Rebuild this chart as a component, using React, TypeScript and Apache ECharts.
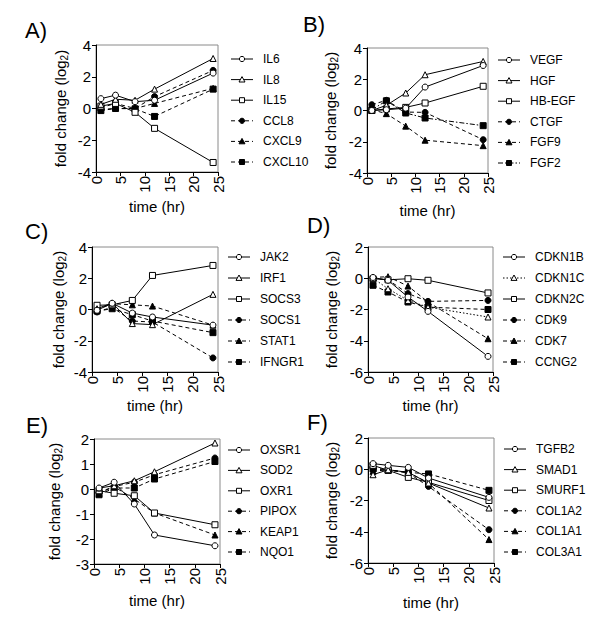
import React, { useEffect, useRef } from 'react';
import * as echarts from 'echarts';

// ---------- data ----------
const times = [1, 4, 8, 12, 24];

// Panel A
const genesA = ['IL6', 'IL8', 'IL15', 'CCL8', 'CXCL9', 'CXCL10'];
const IL6 = [0.62, 0.84, 0.43, 0.52, 2.23];
const IL8 = [0.26, 0.58, 0.52, 1.22, 3.15];
const IL15 = [0.15, 0.32, -0.24, -1.25, -3.4];
const CCL8 = [-0.06, 0.0, 0.0, 0.75, 2.4];
const CXCL9 = [0.05, 0.32, 0.0, 0.32, 1.27];
const CXCL10 = [-0.13, 0.0, -0.02, -0.5, 1.22];

// Panel B
const genesB = ['VEGF', 'HGF', 'HB-EGF', 'CTGF', 'FGF9', 'FGF2'];
const VEGF = [0, 0.05, 0.15, 1.5, 2.88];
const HGF = [0, 0.33, 1.12, 2.29, 3.14];
const HBEGF = [0, 0.1, 0.2, 0.48, 1.55];
const CTGF = [0.37, 0.65, -0.1, -0.12, -1.87];
const FGF9 = [0.05, -0.2, -1.0, -1.9, -2.25];
const FGF2 = [0.05, 0.62, -0.16, -0.48, -0.97];

// Panel C
const genesC = ['JAK2', 'IRF1', 'SOCS3', 'SOCS1', 'STAT1', 'IFNGR1'];
const JAK2 = [-0.05, 0.4, -0.23, -0.48, -1.0];
const IRF1 = [0.05, 0.42, -0.9, -0.97, 0.97];
const SOCS3 = [0.27, 0.3, 0.58, 2.18, 2.82];
const SOCS1 = [-0.16, 0.15, -0.74, -0.8, -3.1];
const STAT1 = [0, 0.37, 0.3, 0.22, -1.0];
const IFNGR1 = [-0.1, 0.05, -0.33, -0.74, -1.48];

// Panel D
const genesD = ['CDKN1B', 'CDKN1C', 'CDKN2C', 'CDK9', 'CDK7', 'CCNG2'];
const CDKN1B = [0.05, -0.13, -1.2, -2.12, -5.0];
const CDKN1C = [0, -0.67, -1.42, -1.85, -2.48];
const CDKN2C = [-0.03, -0.1, -0.03, -0.13, -0.94];
const CDK9 = [0, -0.1, -0.98, -1.48, -1.42];
const CDK7 = [0.05, 0.1, -0.5, -1.52, -3.87];
const CCNG2 = [-0.45, -0.88, -1.52, -1.85, -2.0];

// Panel E
const genesE = ['OXSR1', 'SOD2', 'OXR1', 'PIPOX', 'KEAP1', 'NQO1'];
const OXSR1 = [0.04, 0.27, -0.6, -1.84, -2.27];
const SOD2 = [0.04, 0.13, 0.33, 0.69, 1.84];
const OXR1 = [-0.07, -0.17, -0.27, -0.96, -1.43];
const PIPOX = [-0.13, 0.1, 0.27, 0.57, 1.24];
const KEAP1 = [-0.17, 0.09, -0.4, -0.96, -1.84];
const NQO1 = [-0.23, 0.04, 0.04, 0.4, 1.1];

// Panel F
const genesF = ['TGFB2', 'SMAD1', 'SMURF1', 'COL1A2', 'COL1A1', 'COL3A1'];
const TGFB2 = [0.36, 0.25, 0.12, -0.56, -1.8];
const SMAD1 = [-0.35, -0.03, -0.2, -0.88, -2.48];
const SMURF1 = [0.25, -0.07, -0.52, -0.84, -2.0];
const COL1A2 = [0.08, -0.03, -0.24, -1.1, -3.87];
const COL1A1 = [-0.13, -0.03, -0.2, -0.88, -4.5];
const COL3A1 = [0.02, -0.07, -0.2, -0.3, -1.35];

const xTicks = [0, 5, 10, 15, 20, 25];

// ---------- styles / layout ----------
const FONT = '"Liberation Sans", Arial, Helvetica, sans-serif';
const SYMBOLS = ['circle', 'triangle', 'rect', 'circle', 'triangle', 'rect'];
const DASH = [4, 3];
const DOT = [1.5, 2];
const DASHDOT = [5, 2, 1.5, 2];
const SOLID = 'solid';

const panels = [
  {
    label: 'A)', lx: 25, ly: 19, genes: genesA, values: [IL6, IL8, IL15, CCL8, CXCL9, CXCL10],
    lines: [SOLID, SOLID, SOLID, DASH, DASH, DASH],
    y: [-4, 4, 2], grid: { left: 96, top: 45, width: 122, height: 127 },
    yGap: 27, xGap: 27, legend: { x: 231, y: 59, gap: 20.6 },
  },
  {
    label: 'B)', lx: 303, ly: 13, genes: genesB, values: [VEGF, HGF, HBEGF, CTGF, FGF9, FGF2],
    lines: [SOLID, SOLID, SOLID, DASH, DASH, DASHDOT],
    y: [-4, 4, 2], grid: { left: 367, top: 48, width: 121, height: 125 },
    yGap: 28, xGap: 30, legend: { x: 498, y: 60, gap: 20.6 },
  },
  {
    label: 'C)', lx: 25, ly: 220, genes: genesC, values: [JAK2, IRF1, SOCS3, SOCS1, STAT1, IFNGR1],
    lines: [SOLID, SOLID, SOLID, DASH, DASH, DASH],
    y: [-4, 4, 2], grid: { left: 92, top: 247, width: 126, height: 125 },
    yGap: 25, xGap: 26, legend: { x: 228, y: 257, gap: 21 },
  },
  {
    label: 'D)', lx: 307, ly: 214, genes: genesD, values: [CDKN1B, CDKN1C, CDKN2C, CDK9, CDK7, CCNG2],
    lines: [SOLID, DOT, SOLID, DASH, DASH, DASH],
    y: [-6, 2, 2], grid: { left: 368, top: 247, width: 125, height: 125 },
    yGap: 28, xGap: 26, legend: { x: 503, y: 257, gap: 21 },
  },
  {
    label: 'E)', lx: 26, ly: 414, genes: genesE, values: [OXSR1, SOD2, OXR1, PIPOX, KEAP1, NQO1],
    lines: [SOLID, SOLID, SOLID, DASH, DASH, DASH],
    y: [-3, 2, 1], grid: { left: 94, top: 439, width: 126, height: 125 },
    yGap: 31, xGap: 29, legend: { x: 228, y: 450, gap: 20.4 },
  },
  {
    label: 'F)', lx: 307, ly: 411, genes: genesF, values: [TGFB2, SMAD1, SMURF1, COL1A2, COL1A1, COL3A1],
    lines: [SOLID, SOLID, SOLID, DASH, DASH, DASH],
    y: [-6, 2, 2], grid: { left: 368, top: 438, width: 126, height: 125 },
    yGap: 28, xGap: 32, legend: { x: 504, y: 449, gap: 20.6 },
  },
];

function legendMarker(k: number, cx: number, cy: number) {
  const empty = k < 3;
  const style = { fill: empty ? '#fff' : '#000', stroke: '#000', lineWidth: 1 };
  const kind = k % 3;
  if (kind === 0) return { type: 'circle', shape: { cx, cy, r: 2.6 }, style, z: 10 };
  if (kind === 1) {
    return {
      type: 'polygon',
      shape: { points: [[cx, cy - 3], [cx - 3, cy + 2.4], [cx + 3, cy + 2.4]] },
      style, z: 10,
    };
  }
  return { type: 'rect', shape: { x: cx - 2.5, y: cy - 2.5, width: 5, height: 5 }, style, z: 10 };
}

function buildOption() {
  const grid: any[] = [];
  const xAxis: any[] = [];
  const yAxis: any[] = [];
  const series: any[] = [];
  const graphic: any[] = [];

  panels.forEach((p, i) => {
    grid.push({ ...p.grid, show: true, borderColor: '#8a8a8a', borderWidth: 1, backgroundColor: 'transparent' });
    xAxis.push({
      type: 'value', gridIndex: i, min: xTicks[0], max: xTicks[xTicks.length - 1], interval: 5,
      name: 'time (hr)', nameLocation: 'middle', nameGap: p.xGap,
      nameTextStyle: { fontFamily: FONT, fontSize: 15, fontWeight: 'normal', color: '#000' },
      axisLine: { show: true, onZero: false, lineStyle: { color: '#000', width: 1 } },
      axisTick: { show: true, inside: false, length: 4, lineStyle: { color: '#000' } },
      axisLabel: { rotate: 90, margin: 4, fontFamily: FONT, fontSize: 15, color: '#000' },
      splitLine: { show: false },
    });
    yAxis.push({
      type: 'value', gridIndex: i, min: p.y[0], max: p.y[1], interval: p.y[2],
      name: '{a|fold change (log}{b|2}{a|)}', nameLocation: 'middle', nameGap: p.yGap,
      nameTextStyle: {
        fontFamily: FONT, color: '#000', fontWeight: 'normal',
        rich: {
          a: { fontFamily: FONT, fontSize: 15, fontWeight: 'normal', color: '#000', lineHeight: 18, verticalAlign: 'middle' },
          b: { fontFamily: FONT, fontSize: 10, fontWeight: 'normal', color: '#000', lineHeight: 18, verticalAlign: 'bottom' },
        },
      },
      axisLine: { show: true, onZero: false, lineStyle: { color: '#000', width: 1 } },
      axisTick: { show: true, inside: false, length: 4, lineStyle: { color: '#000' } },
      axisLabel: { margin: 5, fontFamily: FONT, fontSize: 15, color: '#000' },
      splitLine: { show: false },
    });
    p.genes.forEach((g, k) => {
      const empty = k < 3;
      series.push({
        type: 'line', name: g, xAxisIndex: i, yAxisIndex: i,
        data: times.map((t, j) => [t, p.values[k][j]]),
        symbol: SYMBOLS[k], symbolSize: 6, showSymbol: true,
        lineStyle: { color: '#000', width: 1, type: p.lines[k] },
        itemStyle: { color: empty ? '#fff' : '#000', borderColor: '#000', borderWidth: 1 },
        z: 3 + (5 - k),
      });
      // legend row
      const cy = p.legend.y + k * p.legend.gap;
      const x0 = p.legend.x;
      const dash = p.lines[k] === SOLID ? null : p.lines[k];
      graphic.push({
        type: 'line', shape: { x1: x0, y1: cy, x2: x0 + 22, y2: cy },
        style: { stroke: '#000', lineWidth: 1, lineDash: dash }, z: 9,
      });
      graphic.push(legendMarker(k, x0 + 11, cy));
      graphic.push({
        type: 'text', x: x0 + 32, y: cy,
        style: { text: g, fontFamily: FONT, fontSize: 12, fill: '#000', verticalAlign: 'middle', align: 'left' },
        z: 10,
      });
    });
    graphic.push({
      type: 'text', left: p.lx, top: p.ly,
      style: { text: p.label, fontFamily: FONT, fontSize: 22, fill: '#000' },
    });
  });

  return { animation: false, backgroundColor: '#fff', grid, xAxis, yAxis, series, graphic };
}

export default function App() {
  const ref = useRef<HTMLDivElement>(null);
  useEffect(() => {
    if (!ref.current) return;
    const chart = echarts.init(ref.current, undefined, { renderer: 'svg' });
    chart.setOption(buildOption());
    return () => chart.dispose();
  }, []);
  return <div ref={ref} style={{ position: 'absolute', left: 0, top: 0, width: 600, height: 632, background: '#fff' }} />;
}
